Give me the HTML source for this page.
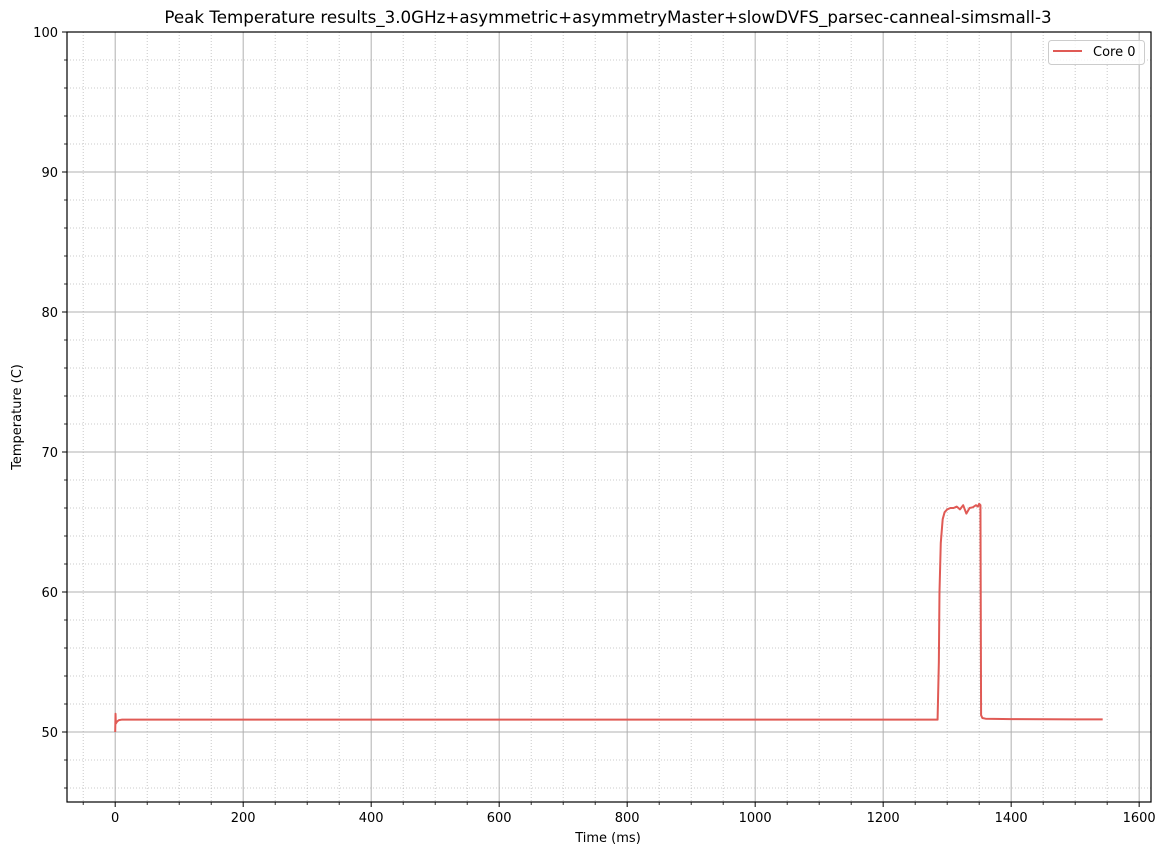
<!DOCTYPE html>
<html><head><meta charset="utf-8"><style>
html,body{margin:0;padding:0;background:#fff;}
svg text{font-family:"DejaVu Sans","Liberation Sans",sans-serif;}
</style></head><body>
<svg id="chart" width="1165" height="855" xmlns="http://www.w3.org/2000/svg">
<rect width="1165" height="855" fill="#fff"/>
<g id="grid"></g>
<g id="series"></g>
<g id="axes"></g>
<text x="608" y="23" font-size="16.7" text-anchor="middle">Peak Temperature results_3.0GHz+asymmetric+asymmetryMaster+slowDVFS_parsec-canneal-simsmall-3</text>
<text x="608" y="842" font-size="13" text-anchor="middle">Time (ms)</text>
<text transform="translate(21,417) rotate(-90)" font-size="13" text-anchor="middle">Temperature (C)</text>
<g>
<rect x="1048.5" y="40.5" width="96" height="24" rx="3" fill="#fff" fill-opacity="0.8" stroke="#ccc"/>
<line x1="1053" y1="51" x2="1082" y2="51" stroke="#e05a55" stroke-width="2"/>
<text x="1093" y="56" font-size="13">Core 0</text>
</g>
</svg>
<script>
const timeMs=[0,0.5,1,3,6,10,100,400,800,1200,1285,1287,1288,1290,1293,1296,1300,1305,1310,1315,1320,1325,1330,1335,1340,1345,1348,1350,1352,1353,1355,1360,1400,1500,1543];
const tempC=[50.0,51.3,50.6,50.75,50.85,50.88,50.88,50.88,50.88,50.88,50.88,55,60,63.5,65.2,65.7,65.9,66.0,66.0,66.1,65.9,66.2,65.6,66.0,66.05,66.2,66.1,66.3,66.2,51.2,51.0,50.95,50.92,50.9,50.9];
const xTicks=[0,200,400,600,800,1000,1200,1400,1600];
const yTicks=[50,60,70,80,90,100];
const L=67,R=1151,T=32,B=802,X0=-75.3,X1=1618.5,Y0=45,Y1=100;
const sx=v=>L+(v-X0)/(X1-X0)*(R-L), sy=v=>B-(v-Y0)/(Y1-Y0)*(B-T);
const NS="http://www.w3.org/2000/svg";
function mk(tag,attrs,parent){const e=document.createElementNS(NS,tag);for(const k in attrs)e.setAttribute(k,attrs[k]);parent.appendChild(e);return e;}
const grid=document.getElementById('grid'),axes=document.getElementById('axes'),ser=document.getElementById('series');
for(let v=-50;v<=1600;v+=50){if(v%200===0)continue;const x=sx(v);
 const g=mk('line',{x1:x,x2:x,y1:T,y2:B,stroke:'#bbb','stroke-width':0.8,'stroke-dasharray':'1,2'},grid);
 
 const t=mk('line',{x1:x,x2:x,y1:B,y2:B+3,stroke:'#000','stroke-width':0.8},axes);
 }
for(let v=46;v<100;v+=2){if(v%10===0)continue;const y=sy(v);
 const g=mk('line',{x1:L,x2:R,y1:y,y2:y,stroke:'#bbb','stroke-width':0.8,'stroke-dasharray':'1,2'},grid);
 
 const t=mk('line',{x1:L-3,x2:L,y1:y,y2:y,stroke:'#000','stroke-width':0.8},axes);
 }
xTicks.forEach(v=>{const x=sx(v);
 const g=mk('line',{x1:x,x2:x,y1:T,y2:B,stroke:'#b0b0b0','stroke-width':1},grid);
 
 const t=mk('line',{x1:x,x2:x,y1:B,y2:B+5,stroke:'#000','stroke-width':1},axes);
 
 const l=mk('text',{x:x,y:B+20,'font-size':13,'text-anchor':'middle'},axes);l.textContent=v;
 });
yTicks.forEach(v=>{const y=sy(v);
 const g=mk('line',{x1:L,x2:R,y1:y,y2:y,stroke:'#b0b0b0','stroke-width':1},grid);
 
 const t=mk('line',{x1:L-5,x2:L,y1:y,y2:y,stroke:'#000','stroke-width':1},axes);
 
 const l=mk('text',{x:L-9,y:y+5,'font-size':13,'text-anchor':'end'},axes);l.textContent=v;
 });
const fr=mk('rect',{x:L,y:T,width:R-L,height:B-T,fill:'none',stroke:'#000','stroke-width':1.2},axes);

const pts=timeMs.map((t,i)=>sx(t).toFixed(2)+','+sy(tempC[i]).toFixed(2)).join(' ');
const pl=mk('polyline',{points:pts,fill:'none',stroke:'#e05a55','stroke-width':2,'stroke-linejoin':'round'},ser);

</script>
</body></html>
